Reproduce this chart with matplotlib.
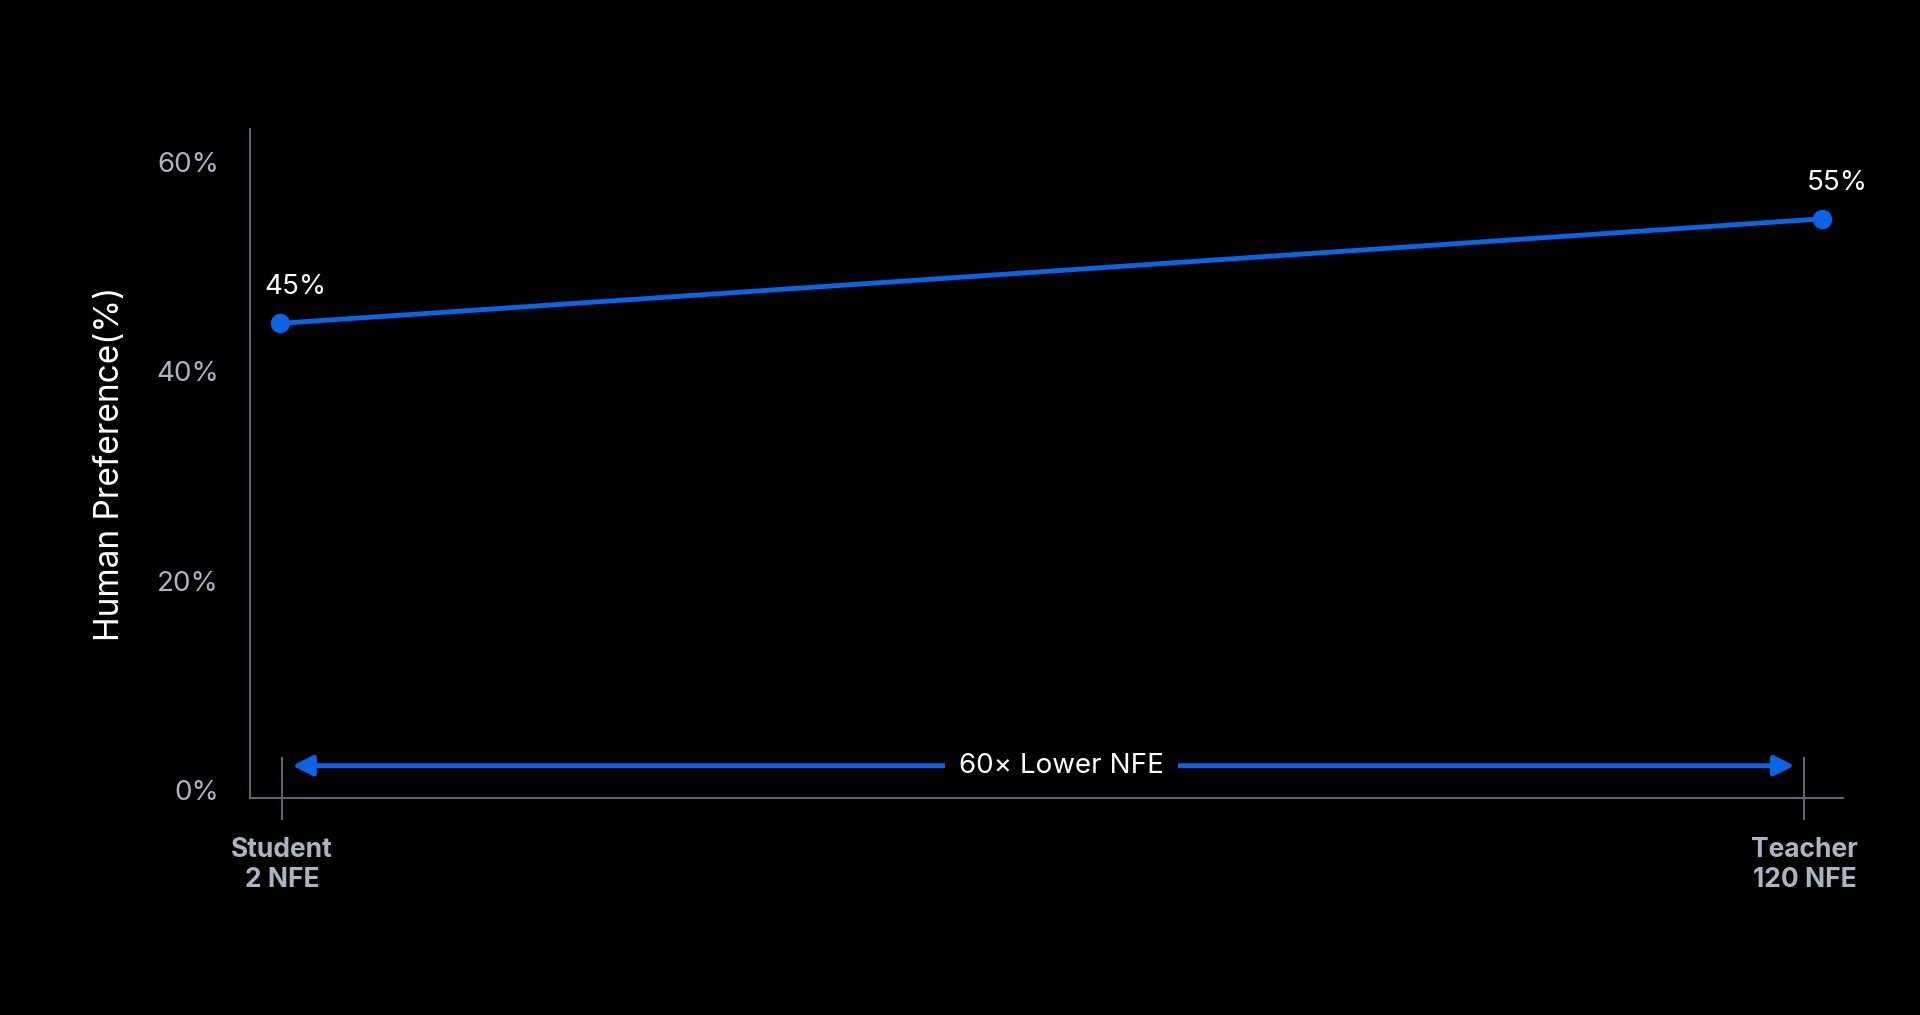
import matplotlib
matplotlib.use("Agg")
import matplotlib.pyplot as plt

models = ["Student\n2 NFE", "Teacher\n120 NFE"]
point_x = [0.0, 1.0]
preference = [44.6, 54.6]
point_labels = ["45%", "55%"]
tick_x = [0.0016, 0.9887]
yticks = [0, 20, 40, 60]
arrow_text = "60× Lower NFE"

plt.rcParams['font.family'] = ['Inter', 'DejaVu Sans']
fig = plt.figure(figsize=(19.2, 10.15), dpi=100, facecolor='black')
ax = fig.add_axes([0.130, 0.2135, 0.830, 0.6595])
ax.set_facecolor('black')
blue = '#0a64e6'
gray = '#aab4c2'
spine = '#5c6670'

ax.plot(point_x, preference, color=blue, lw=3.5, marker='o', ms=13, zorder=3)
for x, y, t in zip(point_x, preference, point_labels):
    ax.text(x + 0.01, y + 2.2, t, color='white', fontsize=20, ha='center', va='bottom')

ax.set_xlim(-0.0194, 1.0138)
ax.set_ylim(-0.82, 63.2)
ax.set_yticks(yticks)
ax.set_yticklabels([f"{v}%" for v in yticks], color=gray, fontsize=20)
ax.tick_params(axis='y', length=0, pad=22)
ax.set_xticks(tick_x)
ax.set_xticklabels(models, color=gray, fontsize=19, fontweight='bold', linespacing=1.2)
ax.tick_params(axis='x', length=0, pad=28)
for tx in tick_x:
    ax.plot([tx, tx], [3.0, -2.8], color=spine, lw=1.5, clip_on=False)
for s in ['top', 'right']:
    ax.spines[s].set_visible(False)
for s in ['left', 'bottom']:
    ax.spines[s].set_color(spine)
    ax.spines[s].set_linewidth(1.5)

ax.set_ylabel("Human Preference(%)", color='white', fontsize=24, labelpad=22)

ax.annotate('', xy=(0.984, 2.3), xytext=(0.0065, 2.3),
            arrowprops=dict(arrowstyle='<|-|>', color=blue, lw=3.5, mutation_scale=30))
ax.text(0.507, 2.3, arrow_text, color='white', fontsize=20, ha='center', va='center',
        bbox=dict(facecolor='black', edgecolor='none', pad=10), zorder=5)

fig.savefig('out.png', facecolor='black')
